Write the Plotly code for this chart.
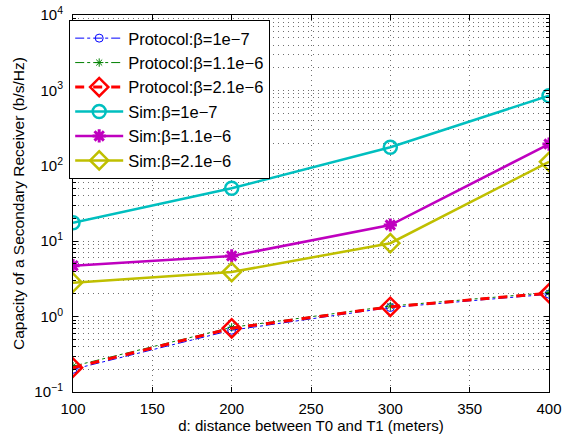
import plotly.graph_objects as go

d = [100, 200, 300, 400]
proto_b1 = [0.20, 0.66, 1.32, 1.98]
proto_b2 = [0.22, 0.72, 1.38, 2.08]
proto_b3 = [0.21, 0.70, 1.35, 2.04]
sim_b1 = [17.6, 50.4, 176, 851]
sim_b2 = [4.73, 6.37, 16.4, 194]
sim_b3 = [2.82, 3.9, 9.4, 113]

names = ["Protocol:β=1e−7", "Protocol:β=1.1e−6", "Protocol:β=2.1e−6",
         "Sim:β=1e−7", "Sim:β=1.1e−6", "Sim:β=2.1e−6"]

ytickvals = [0.1, 1, 10, 100, 1000, 10000]
yticktext = ["10<sup>−1</sup>", "10<sup>0</sup>", "10<sup>1</sup>",
             "10<sup>2</sup>", "10<sup>3</sup>", "10<sup>4</sup>"]

fig = go.Figure()
fig.add_trace(go.Scatter(x=d, y=proto_b1, name=names[0], mode="lines+markers", legendgroup="a",
                         line=dict(color="#0000FF", width=1, dash="dashdot"),
                         marker=dict(symbol="circle-open", size=8, color="#0000FF", line=dict(width=1))))
fig.add_trace(go.Scatter(x=d, y=proto_b2, name=names[1], mode="lines+markers", legendgroup="b",
                         line=dict(color="#008000", width=1, dash="dashdot"),
                         marker=dict(symbol="asterisk-open", size=7, color="#008000", line=dict(width=1, color="#008000"))))
fig.add_trace(go.Scatter(x=d, y=proto_b3, name=names[2], mode="lines+markers", legendgroup="c",
                         line=dict(color="#FF0000", width=3, dash="dash"),
                         marker=dict(symbol="diamond-open", size=14, color="#FF0000", line=dict(width=2.5))))
fig.add_trace(go.Scatter(x=d, y=sim_b1, name=names[3], mode="lines+markers", legendgroup="d",
                         line=dict(color="#00BFBF", width=2.5),
                         marker=dict(symbol="circle-open", size=13, color="#00BFBF", line=dict(width=2.5))))
fig.add_trace(go.Scatter(x=d, y=sim_b2, name=names[4], mode="lines+markers", legendgroup="e",
                         line=dict(color="#BF00BF", width=2.5),
                         marker=dict(symbol="asterisk-open", size=11, color="#BF00BF", line=dict(width=3, color="#BF00BF"))))
fig.add_trace(go.Scatter(x=d, y=sim_b3, name=names[5], mode="lines+markers", legendgroup="f",
                         line=dict(color="#BFBF00", width=2.5),
                         marker=dict(symbol="diamond-open", size=14, color="#BFBF00", line=dict(width=2.5))))

grid_dash = "1px,4px"
grid_col = "#707070"

fig.update_layout(
    width=566, height=435,
    margin=dict(l=73, r=17, t=15, b=43, autoexpand=False),
    paper_bgcolor="white", plot_bgcolor="white",
    font=dict(family="Liberation Sans, Arial, sans-serif", color="black", size=12),
    showlegend=True,
    legend=dict(x=-0.008, y=0.987, xanchor="left", yanchor="top",
                bgcolor="white", bordercolor="black", borderwidth=1,
                font=dict(size=16.5), tracegroupgap=0, itemwidth=48),
)
fig.update_xaxes(range=[100, 400], dtick=50, tick0=100,
                 showline=True, linecolor="black", linewidth=1, mirror="allticks",
                 ticks="inside", ticklen=5, tickcolor="black",
                 showgrid=True, gridcolor=grid_col, griddash=grid_dash, gridwidth=1,
                 zeroline=False, tickfont=dict(size=15), ticklabelstandoff=3,
                 title=dict(text="d: distance between T0 and T1 (meters)", font=dict(size=15), standoff=0))
fig.update_yaxes(type="log", range=[-1, 4], tickvals=ytickvals, ticktext=yticktext,
                 showline=True, linecolor="black", linewidth=1, mirror="allticks",
                 ticks="inside", ticklen=5, tickcolor="black",
                 showgrid=True, gridcolor=grid_col, griddash=grid_dash, gridwidth=1,
                 minor=dict(dtick="D1", showgrid=True, gridcolor=grid_col, griddash=grid_dash,
                            ticks="inside", ticklen=3, tickcolor="black"),
                 zeroline=False, tickfont=dict(size=15), ticklabelstandoff=6,
                 title=dict(text="Capacity of a Secondary Receiver (b/s/Hz)", font=dict(size=15.5), standoff=5))

fig.write_html("out.html", config={"displayModeBar": False},
               post_script="document.body.style.margin='0px';")
